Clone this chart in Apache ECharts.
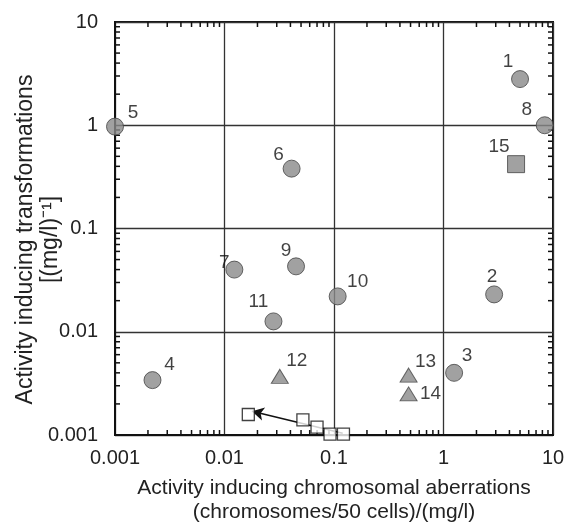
<!DOCTYPE html>
<html>
<head>
<meta charset="utf-8">
<title>Activity scatter</title>
<script src="https://cdn.jsdelivr.net/npm/echarts@6/dist/echarts.min.js"></script>
<style>
  html, body { margin: 0; padding: 0; background: #fff; }
  #main { width: 571px; height: 525px; }
</style>
</head>
<body>
<div id="main"></div>
<script>
// data
var circleIds = ['1', '2', '3', '4', '5', '6', '7', '8', '9', '10', '11'];
var circleX = [5.0, 2.9, 1.25, 0.0022, 0.001, 0.041, 0.0123, 8.4, 0.045, 0.108, 0.028];
var circleY = [2.8, 0.023, 0.004, 0.0034, 0.97, 0.38, 0.04, 1.0, 0.043, 0.022, 0.0126];

var triIds = ['12', '13', '14'];
var triX = [0.032, 0.48, 0.48];
var triY = [0.0037, 0.0038, 0.0025];

var sqIds = ['15'];
var sqX = [4.6];
var sqY = [0.42];

var openX = [0.0165, 0.052, 0.07, 0.092, 0.122];
var openY = [0.00158, 0.0014, 0.00119, 0.00102, 0.00102];

var arrowFrom = [0.12, 0.00104];
var arrowTo = [0.0178, 0.0017];

var axisMin = 0.001, axisMax = 10;
var decades = [0.001, 0.01, 0.1, 1];
var minorMult = [2, 3, 4, 5, 6, 7, 8, 9];

// label offsets (px from marker centre)
var labelOffset = {
  '1': [-12, -17], '2': [-2, -18], '3': [13, -17], '4': [17, -15],
  '5': [18, -14], '6': [-13, -14], '7': [-10, -7], '8': [-18, -15],
  '9': [-10, -16], '10': [20, -15], '11': [-15, -20],
  '12': [17, -16], '13': [17, -13], '14': [22, 0], '15': [-17, -17]
};

var minorTicks = [];
decades.forEach(function (d) {
  minorMult.forEach(function (m) { minorTicks.push(+(d * m).toPrecision(3)); });
});

var FONT = '"Liberation Sans", Arial, Helvetica, sans-serif';
var GRAY = '#8a8a8a';

function pts(ids, xs, ys) {
  return xs.map(function (x, i) {
    var id = ids ? ids[i] : null;
    var item = { value: [x, ys[i]] };
    if (id) {
      item.name = id;
      item.label = { offset: labelOffset[id] };
    }
    return item;
  });
}

var markLabel = {
  show: true,
  position: 'inside',
  formatter: '{b}',
  color: '#111',
  fontFamily: FONT,
  fontSize: 19
};

function tickItem(params, api, isX) {
  var v = api.value(isX ? 0 : 1);
  var len = 5;
  var children = [];
  if (isX) {
    var pb = api.coord([v, axisMin]);
    var pt = api.coord([v, axisMax]);
    children.push({ type: 'line', shape: { x1: pb[0], y1: pb[1], x2: pb[0], y2: pb[1] - len } });
    children.push({ type: 'line', shape: { x1: pt[0], y1: pt[1], x2: pt[0], y2: pt[1] + len } });
  } else {
    var pl = api.coord([axisMin, v]);
    var pr = api.coord([axisMax, v]);
    children.push({ type: 'line', shape: { x1: pl[0], y1: pl[1], x2: pl[0] + len, y2: pl[1] } });
    children.push({ type: 'line', shape: { x1: pr[0], y1: pr[1], x2: pr[0] - len, y2: pr[1] } });
  }
  children.forEach(function (c) { c.style = { stroke: '#111', lineWidth: 1.5 }; });
  return { type: 'group', children: children };
}

var myChart = echarts.init(document.getElementById('main'), null, { renderer: 'canvas' });

var option = {
  backgroundColor: '#fff',
  animation: false,
  grid: {
    left: 115, right: 18, top: 22, bottom: 90,
    outerBoundsMode: 'none', containLabel: false,
    show: true, borderColor: '#111', borderWidth: 2, backgroundColor: 'transparent'
  },
  xAxis: {
    type: 'log', logBase: 10, min: axisMin, max: axisMax,
    name: 'Activity inducing chromosomal aberrations\n(chromosomes/50 cells)/(mg/l)',
    nameLocation: 'middle', nameGap: 41, nameMoveOverlap: false,
    nameTextStyle: { fontFamily: FONT, fontSize: 21, color: '#222', lineHeight: 24 },
    axisLine: { show: true, lineStyle: { color: '#111', width: 2 } },
    axisTick: { show: false },
    axisLabel: {
      margin: 13, fontFamily: FONT, fontSize: 20, color: '#222',
      formatter: function (v) { return String(+v.toPrecision(3)); }
    },
    splitLine: { show: true, lineStyle: { color: '#333', width: 1.3 } }
  },
  yAxis: {
    type: 'log', logBase: 10, min: axisMin, max: axisMax,
    name: 'Activity inducing transformations\n[(mg/l)⁻¹]',
    nameLocation: 'middle', nameGap: 52, nameMoveOverlap: false,
    nameTextStyle: {
      fontFamily: FONT, fontSize: 23, color: '#222', lineHeight: 25,
      padding: [0, 22, 0, 0]
    },
    axisLine: { show: true, lineStyle: { color: '#111', width: 2 } },
    axisTick: { show: false },
    axisLabel: {
      margin: 17, fontFamily: FONT, fontSize: 20, color: '#222',
      formatter: function (v) { return String(+v.toPrecision(3)); }
    },
    splitLine: { show: true, lineStyle: { color: '#333', width: 1.3 } }
  },
  series: [
    {
      type: 'custom', silent: true, z: 5,
      renderItem: function (p, api) { return tickItem(p, api, true); },
      data: minorTicks.map(function (t) { return [t, axisMin]; })
    },
    {
      type: 'custom', silent: true, z: 5,
      renderItem: function (p, api) { return tickItem(p, api, false); },
      data: minorTicks.map(function (t) { return [axisMin, t]; })
    },
    {
      type: 'scatter', clip: false, z: 10,
      symbol: 'rect', symbolSize: 12,
      itemStyle: { color: '#fff', borderColor: '#111', borderWidth: 1.3 },
      data: pts(null, openX, openY),
      markLine: {
        silent: true, symbol: ['none', 'arrow'], symbolSize: [10, 12],
        label: { show: false },
        lineStyle: { color: '#111', width: 1.6, type: 'solid' },
        data: [[{ coord: arrowFrom }, { coord: arrowTo }]]
      }
    },
    {
      type: 'scatter', clip: false, z: 10,
      symbol: 'circle', symbolSize: 17,
      itemStyle: { color: GRAY, borderColor: '#444', borderWidth: 1 },
      label: markLabel,
      data: pts(circleIds, circleX, circleY)
    },
    {
      type: 'scatter', clip: false, z: 10,
      symbol: 'triangle', symbolSize: [17, 14],
      itemStyle: { color: GRAY, borderColor: '#444', borderWidth: 1 },
      label: markLabel,
      data: pts(triIds, triX, triY)
    },
    {
      type: 'scatter', clip: false, z: 10,
      symbol: 'rect', symbolSize: 17,
      itemStyle: { color: GRAY, borderColor: '#444', borderWidth: 1 },
      label: markLabel,
      data: pts(sqIds, sqX, sqY)
    }
  ]
};

myChart.setOption(option);
</script>
</body>
</html>
